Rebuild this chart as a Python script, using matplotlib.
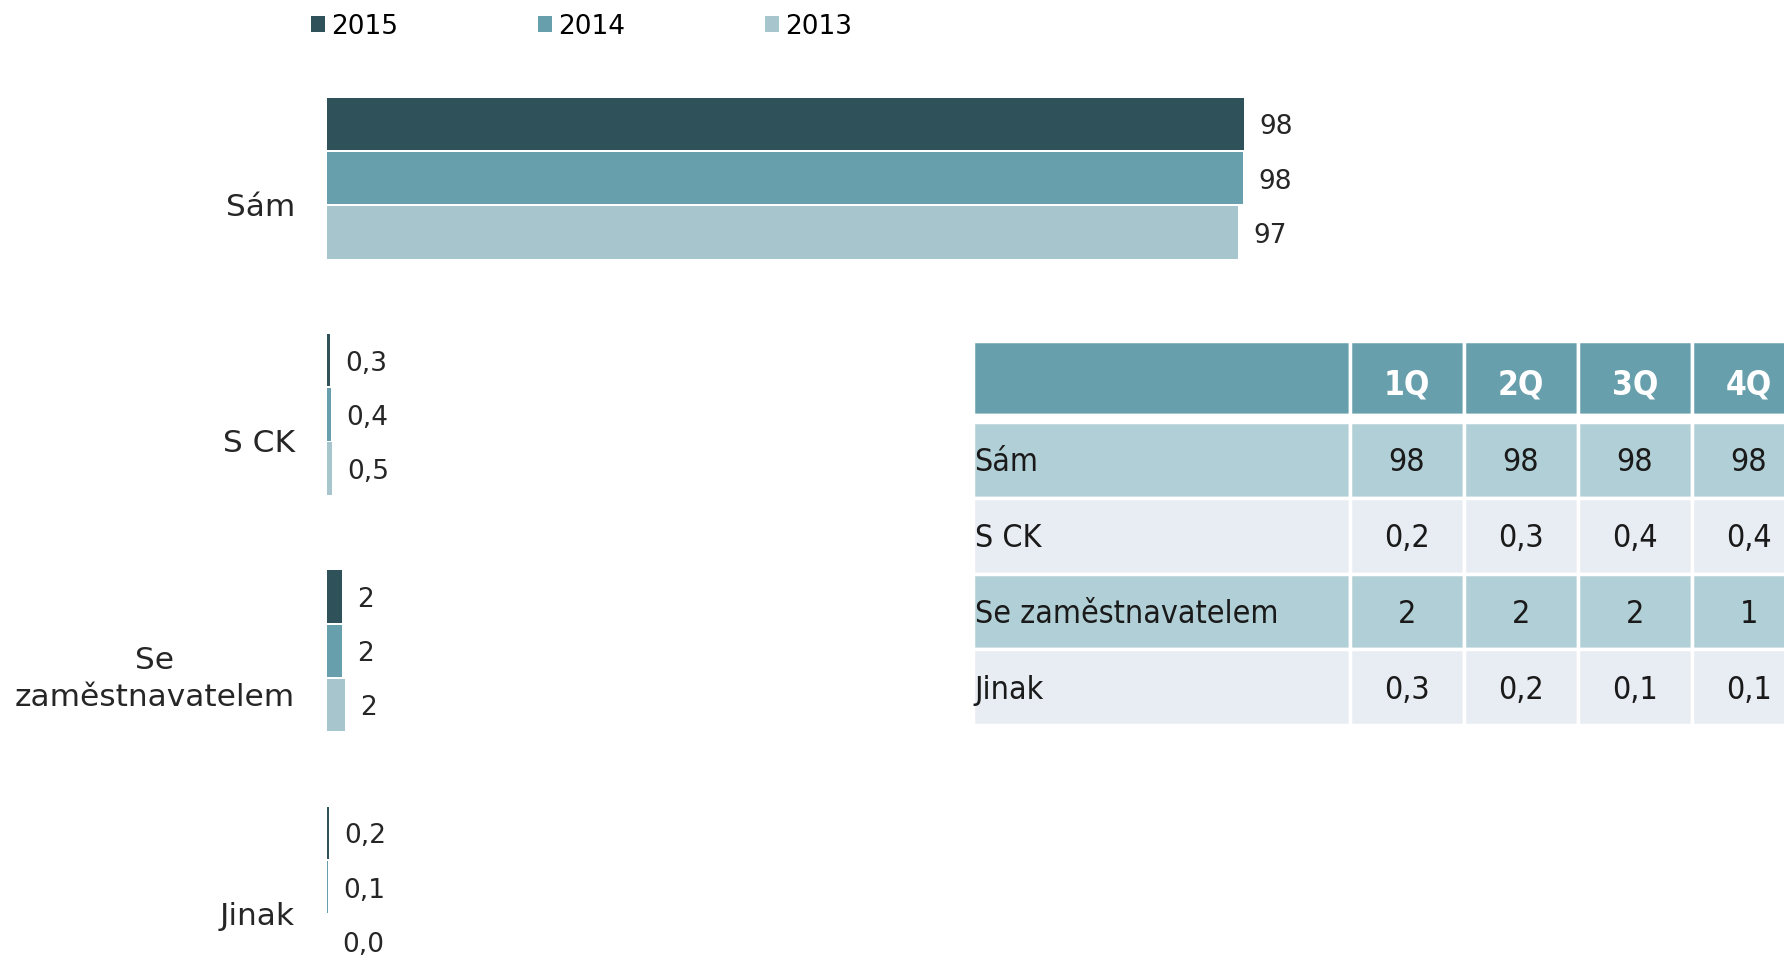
import matplotlib
matplotlib.use('Agg')
import matplotlib.pyplot as plt
from matplotlib.transforms import Affine2D

categories = ['Sám', 'S CK', 'Se\nzaměstnavatelem', 'Jinak']
years = ['2015', '2014', '2013']
vals_2015 = [98.0, 0.3, 1.6, 0.2]
vals_2014 = [97.9, 0.4, 1.6, 0.1]
vals_2013 = [97.4, 0.5, 1.9, 0.04]

quarters = ['1Q', '2Q', '3Q', '4Q']
table_rows = ['Sám', 'S CK', 'Se zaměstnavatelem', 'Jinak']
q_sam = [98, 98, 98, 98]
q_sck = [0.2, 0.3, 0.4, 0.4]
q_zam = [2, 2, 2, 1]
q_jinak = [0.3, 0.2, 0.1, 0.1]

colors = ['#2F5159', '#689FAC', '#A6C5CC']
text_col = '#262626'


def fmt(v):
    if v >= 1:
        return f"{v:.0f}"
    return f"{v:.1f}".replace('.', ',')


W, H = 1784, 957
fig = plt.figure(figsize=(W / 100, H / 100), dpi=100)

# bar chart
ax = fig.add_axes([327 / W, 0, 935.7 / W, 1])
step = 0.2296
offsets = [-step, 0, step]
ypos = list(range(len(categories)))
for j, (year, vals) in enumerate(zip(years, [vals_2015, vals_2014, vals_2013])):
    yy = [y + offsets[j] for y in ypos]
    ax.barh(yy, vals, height=0.222, color=colors[j], label=year)
    for y, v in zip(yy, vals):
        ax.annotate(fmt(v), xy=(v, y), xytext=(11, -2.5), textcoords='offset points',
                    va='center', ha='left', fontsize=19, color=text_col)

ax.set_xlim(0, 100)
ax.set_ylim(3.296, -0.754)
label_shift = [0.11, 0.11, 0.09, 0.11]
ax.set_yticks([y + d for y, d in zip(ypos, label_shift)])
ax.set_yticklabels(categories, fontsize=22.5, color=text_col)
for lab in ax.get_yticklabels():
    lab.set_multialignment('center')
    lab.set_linespacing(1.36)
ax.tick_params(axis='y', length=0, pad=23)
ax.set_xticks([])
for s in ax.spines.values():
    s.set_visible(False)

fig.legend(loc='center left', bbox_to_anchor=(311 / W, 1 - 26.5 / H), ncol=3, frameon=False,
           fontsize=19, handlelength=0.53, handleheight=0.53, handletextpad=0.23,
           columnspacing=5.3, borderpad=0, borderaxespad=0)

# table
tax = fig.add_axes([973 / W, 1 - 725 / H, 833 / W, 384 / H])
tax.axis('off')
cell_text = [[''] + quarters, [''] * 5]
for name, row in zip(table_rows, [q_sam, q_sck, q_zam, q_jinak]):
    cell_text.append([name] + [fmt(v) for v in row])
tbl = tax.table(cellText=cell_text, cellLoc='center', colWidths=[377, 114, 114, 114, 114],
                bbox=[0, 0, 1, 1])
tbl.auto_set_font_size(False)
heights = [74, 7, 75.75, 75.75, 75.75, 75.75]
row_colors = ['#689FAC', 'white', '#B1CFD6', '#E8ECF3', '#B1CFD6', '#E8ECF3']
for (r, c), cell in tbl.get_celld().items():
    cell.set_height(heights[r])
    cell.set_facecolor(row_colors[r])
    cell.set_edgecolor('white')
    cell.set_linewidth(2.5)
    t = cell.get_text()
    t.set_fontsize(23)
    t.set_fontstretch('condensed')
    t.set_color('#1a1a1a')
    t.set_transform(Affine2D().translate(0, -3))
    if r == 0:
        t.set_color('white')
        t.set_fontweight('bold')
        t.set_fontsize(24)
        t.set_transform(Affine2D().translate(0, -7))
    if c == 0:
        t.set_ha('left')
        cell.PAD = 0.004

fig.savefig('out.png', dpi=100)
